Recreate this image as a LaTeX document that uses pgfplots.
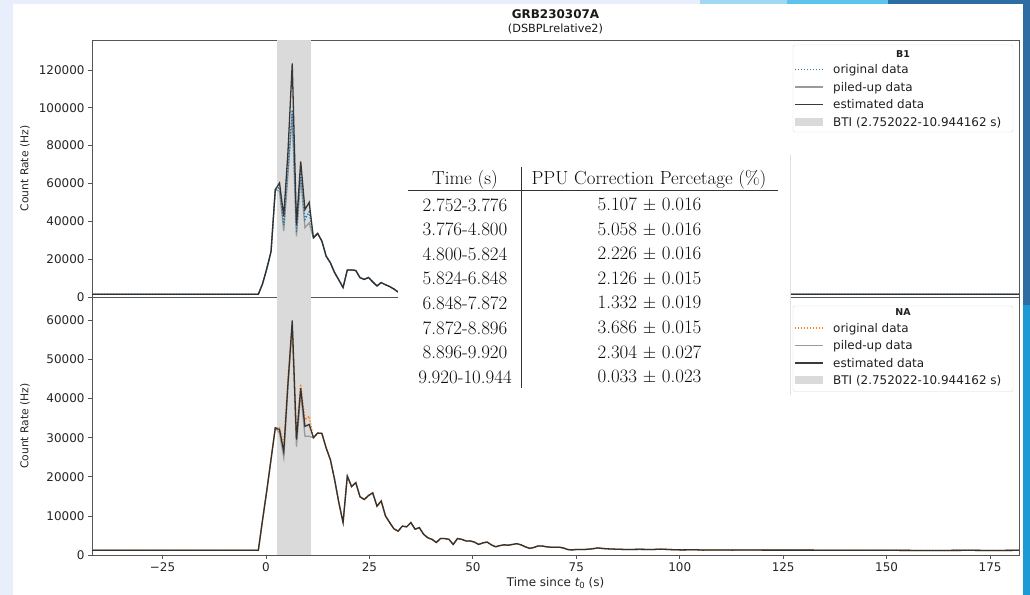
\documentclass[border=0pt]{standalone}
\usepackage{fontspec}
\usepackage{pgfplots}
\usepackage{pgfplotstable}
\pgfplotsset{compat=1.18}
\newfontfamily\dejavu{DejaVu Sans}

\definecolor{pageblue}{HTML}{E8EEFB}
\definecolor{stripA}{HTML}{9ED8F2}
\definecolor{stripB}{HTML}{5BC3EC}
\definecolor{stripC}{HTML}{2D6DA3}
\definecolor{stripD}{HTML}{1C9AD6}
\definecolor{bti}{HTML}{DADADA}
\definecolor{origB}{HTML}{1F77B4}
\definecolor{origN}{HTML}{FF7F0E}
\definecolor{piled}{HTML}{9A9A9A}
\definecolor{est}{HTML}{2A2A2A}
\definecolor{spine}{HTML}{555555}

% B1 detector light curve (1.024 s bins)
\pgfplotstableread{
t       est     pile    orig
-42.06  1400    1400    1400
-2.880  1400    1400    1400
-1.856  1400    1400    1400
-0.832  7000    7000    7000
0.192   15000   15000   15000
1.216   24000   24000   24000
2.240   56700   56700   56700
3.264   60300   56000   58000
4.288   42700   34800   38000
5.312   77000   65000   68000
6.336   123500  96500   98900
7.360   38000   32100   34000
8.384   71700   63000   65500
9.408   46200   36600   41000
10.432  50000   39200   45000
11.456  31300   31300   31300
12.480  33600   33600   33600
13.504  29500   29500   29500
14.528  21600   21600   21600
15.552  18100   18100   18100
16.576  12900   12900   12900
17.600  9000    9000    9000
18.624  5000    5000    5000
19.648  14300   14300   14300
20.672  14300   14300   14300
21.696  14000   14000   14000
22.720  10200   10200   10200
23.744  9300    9300    9300
24.768  10300   10300   10300
25.792  8000    8000    8000
26.816  5800    5800    5800
27.840  7600    7600    7600
28.864  6500    6500    6500
29.888  5500    5500    5500
30.912  4200    4200    4200
31.936  2600    2600    2600
32.960  3800    3800    3800
33.984  3500    3500    3500
35.008  4000    4000    4000
37.056  3000    3000    3000
40.128  2600    2600    2600
45.248  2200    2200    2200
50.368  2000    2000    2000
60.608  1800    1800    1800
70.848  1600    1600    1600
81.088  1500    1500    1500
100.544 1450    1450    1450
126.144 1400    1400    1400
150.720 1400    1400    1400
182.000 1400    1400    1400
}\bone

% NaI detector light curve (1.024 s bins)
\pgfplotstableread{
t       est     pile    orig
-42.06  1200    1200    1200
-2.880  1200    1200    1200
-1.856  1200    1200    1200
-0.832  9000    9000    9000
0.192   16500   16500   16500
1.216   24500   24500   24500
2.240   32500   32500   32500
3.264   32100   31200   32600
4.288   26500   24900   28000
5.312   44000   43000   45500
6.336   60000   58000   58500
7.360   29500   27700   30500
8.384   42700   41500   43700
9.408   32900   30400   34600
10.432  33400   30400   35500
11.456  30000   30000   30000
12.480  31200   31200   31200
13.504  31100   31100   31100
14.528  27400   27400   27400
15.552  24400   24400   24400
16.576  19300   19300   19300
17.600  13400   13400   13400
18.624  8300    8300    8300
19.648  20200   20200   20200
20.672  17500   17500   17500
21.696  18500   18500   18500
22.720  14900   14900   14900
23.744  14200   14200   14200
24.768  15200   15200   15200
25.792  15900   15900   15900
26.816  12500   12500   12500
27.840  13800   13800   13800
28.864  10000   10000   10000
29.888  8300    8300    8300
30.912  6700    6700    6700
31.936  6100    6100    6100
32.960  7400    7400    7400
33.984  7200    7200    7200
35.008  8300    8300    8300
36.032  6600    6600    6600
37.056  7000    7000    7000
38.080  5300    5300    5300
39.104  4400    4400    4400
40.128  4000    4000    4000
41.152  3200    3200    3200
42.176  4200    4200    4200
43.200  4200    4200    4200
44.224  4000    4000    4000
45.248  2700    2700    2700
46.272  4200    4200    4200
47.296  4000    4000    4000
48.320  3600    3600    3600
49.344  3600    3600    3600
50.368  3300    3300    3300
51.392  2700    2700    2700
52.416  3100    3100    3100
53.440  3300    3300    3300
54.464  2600    2600    2600
55.488  2100    2100    2100
56.512  2400    2400    2400
57.536  2600    2600    2600
58.560  2500    2500    2500
59.584  2700    2700    2700
60.608  2900    2900    2900
61.632  2600    2600    2600
62.656  2100    2100    2100
63.680  1700    1700    1700
64.704  1900    1900    1900
65.728  2300    2300    2300
66.752  2300    2300    2300
67.776  2100    2100    2100
68.800  2000    2000    2000
69.824  2000    2000    2000
70.848  2000    2000    2000
71.872  1800    1800    1800
72.896  1400    1400    1400
73.920  1300    1300    1300
74.944  1400    1400    1400
76.992  1400    1400    1400
78.016  1500    1500    1500
79.040  1600    1600    1600
80.064  1800    1800    1800
81.088  1700    1700    1700
82.112  1600    1600    1600
84.160  1500    1500    1500
87.232  1400    1400    1400
90.304  1450    1450    1450
93.376  1400    1400    1400
95.424  1500    1500    1500
98.496  1350    1350    1350
100.544 1300    1300    1300
103.616 1350    1350    1350
105.664 1250    1250    1250
108.736 1300    1300    1300
112.832 1250    1250    1250
115.904 1300    1300    1300
120.000 1250    1250    1250
125.120 1250    1250    1250
130.240 1250    1250    1250
140.480 1200    1200    1200
150.720 1200    1200    1200
160.960 1150    1150    1150
170.176 1200    1200    1200
175.296 1150    1150    1150
182.000 1200    1200    1200
}\nai

\tikzset{
  pileline/.style={piled, line width=1.3bp},
  estline/.style={est, line width=1.3bp, opacity=0.92},
  origline/.style={line width=1.3bp, dash pattern=on 1.3bp off 1.7bp},
}
\pgfplotsset{
  rc/.style={
    scale only axis, width=927bp,
    xmin=-42.06, xmax=182.0,
    axis line style={spine, line width=0.9bp},
    tick align=outside, major tick length=4bp, tick pos=left,
    tick style={spine, line width=0.8bp},
    scaled x ticks=false, scaled y ticks=false,
    every axis y label/.style={at={([xshift=-67bp]rel axis cs:0,0.5)}, rotate=90, anchor=center},
    every axis x label/.style={at={([yshift=-28bp]rel axis cs:0.5,0)}, anchor=center},
    ticklabel style={font=\dejavu\fontsize{12}{14}\selectfont, text=black!85},
    ylabel style={font=\dejavu\fontsize{10.8}{13}\selectfont, text=black!85},
    xlabel style={font=\dejavu\fontsize{12}{14}\selectfont, text=black!85},
  },
}

\begin{document}
\begin{tikzpicture}[x=1bp,y=1bp]
\useasboundingbox (0,0) rectangle (1030,595);
% page background
\fill[pageblue] (0,0) rectangle (1030,595);
\fill[stripA] (700,591) rectangle (787,595);
\fill[stripB] (787,591) rectangle (888,595);
\fill[stripC] (888,591) rectangle (1030,595);
\fill[stripC] (1023,290) rectangle (1030,595);
\fill[stripD] (1023,0) rectangle (1030,290);
\fill[white] (13,0) rectangle (1023,591);

% title
\node[font=\dejavu\bfseries\fontsize{12}{14}\selectfont, text=black!90] at (555.5,595-14) {GRB230307A};
\node[font=\dejavu\fontsize{11.3}{13}\selectfont, text=black!90] at (555.5,595-28.5) {(DSBPLrelative2)};

% B1 panel
\begin{axis}[rc, at={(92bp,298bp)}, anchor=south west, height=257bp,
  ymin=0, ymax=135850, ytick={0,20000,40000,60000,80000,100000,120000},
  yticklabels={0,20000,40000,60000,80000,100000,120000}, xtick=\empty,
  ylabel={Count Rate (Hz)}]
\addplot[fill=bti, draw=none] coordinates {(2.752022,135850) (10.944162,135850)} \closedcycle;
\addplot[pileline] table[x=t,y=pile] {\bone};
\addplot[origB, origline] table[x=t,y=orig] {\bone};
\addplot[estline] table[x=t,y=est] {\bone};
\end{axis}

% NaI panel
\begin{axis}[rc, at={(92bp,40bp)}, anchor=south west, height=258bp,
  ymin=0, ymax=66000, ytick={0,10000,20000,30000,40000,50000,60000},
  yticklabels={0,10000,20000,30000,40000,50000,60000},
  xtick={-25,0,25,50,75,100,125,150,175},
  xticklabels={−25,0,25,50,75,100,125,150,175},
  ylabel={Count Rate (Hz)},
  xlabel={Time since {\itshape t}\raisebox{-0.3ex}{\fontsize{8.5}{10}\selectfont 0} (s)}]
\addplot[fill=bti, draw=none] coordinates {(2.752022,66000) (10.944162,66000)} \closedcycle;
\addplot[pileline] table[x=t,y=pile] {\nai};
\addplot[origN, origline] table[x=t,y=orig] {\nai};
\addplot[estline] table[x=t,y=est] {\nai};
\end{axis}

% correction table
\fill[white] (398,595-155) rectangle (790,595-395);
\draw[black!12, line width=0.8bp] (790,595-155) -- (790,595-395);
\begin{scope}[every node/.style={font=\fontsize{19}{22}\selectfont, text=black!95, inner sep=0pt}]
\node at (465,595-180) {Time (s)};
\node at (649,595-180) {PPU Correction Percetage (\%)};
\foreach \y/\a in {205/2.752-3.776,
                   229.6/3.776-4.800,
                   254.2/4.800-5.824,
                   278.8/5.824-6.848,
                   303.4/6.848-7.872,
                   328/7.872-8.896,
                   352.6/8.896-9.920,
                   377.2/9.920-10.944}{
  \node at (465,595-\y) {\a};
}
\node at (649.5,595-205)   {5.107 $\pm$ 0.016};
\node at (649.5,595-229.6) {5.058 $\pm$ 0.016};
\node at (649.5,595-254.2) {2.226 $\pm$ 0.016};
\node at (649.5,595-278.8) {2.126 $\pm$ 0.015};
\node at (649.5,595-303.4) {1.332 $\pm$ 0.019};
\node at (649.5,595-328)   {3.686 $\pm$ 0.015};
\node at (649.5,595-352.6) {2.304 $\pm$ 0.027};
\node at (649.5,595-377.2) {0.033 $\pm$ 0.023};
\end{scope}
\draw[black!80, line width=1bp] (408,595-191) -- (778,595-191);
\draw[black!80, line width=1bp] (521.7,595-166.7) -- (521.7,595-388.3);

% legends
\begin{scope}[every node/.style={font=\dejavu\fontsize{12}{14}\selectfont, text=black!88, inner sep=0pt, anchor=base west}]
% B1
\draw[black!15, fill=white, rounded corners=2bp] (793,595-45) rectangle (1013,595-132);
\node[anchor=center, font=\dejavu\bfseries\fontsize{9.5}{11}\selectfont] at (903,595-54) {B1};
\draw[origB, origline] (795,595-69.5) -- (823,595-69.5);
\draw[pileline] (795,595-87) -- (823,595-87);
\draw[estline] (795,595-104.5) -- (823,595-104.5);
\fill[bti] (795,595-118) rectangle (823,595-126);
\node at (833,595-74) {original data};
\node at (833,595-91.5) {piled-up data};
\node at (833,595-109) {estimated data};
\node at (833,595-126.5) {BTI (2.752022-10.944162 s)};
% NA
\draw[black!15, fill=white, rounded corners=2bp] (793,595-306) rectangle (1013,595-391.5);
\node[anchor=center, font=\dejavu\bfseries\fontsize{9.5}{11}\selectfont] at (903,595-312.5) {NA};
\draw[origN, origline] (795,595-328) -- (823,595-328);
\draw[pileline] (795,595-345.5) -- (823,595-345.5);
\draw[estline] (795,595-363) -- (823,595-363);
\fill[bti] (795,595-376.5) rectangle (823,595-384.5);
\node at (833,595-332.5) {original data};
\node at (833,595-350) {piled-up data};
\node at (833,595-367.5) {estimated data};
\node at (833,595-385) {BTI (2.752022-10.944162 s)};
\end{scope}
\end{tikzpicture}
\end{document}
